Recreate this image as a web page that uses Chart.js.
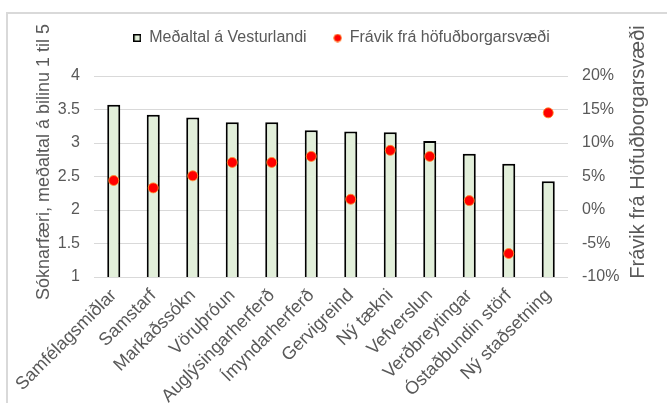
<!DOCTYPE html>
<html>
<head>
<meta charset="utf-8">
<script src="https://cdn.jsdelivr.net/npm/chart.js@4.4.1/dist/chart.umd.min.js"></script>
<style>
  html, body { margin: 0; padding: 0; background: #fff; }
  #wrap { position: relative; width: 667px; height: 403px; overflow: hidden; }
  #frame { position: absolute; left: 6px; top: 12px; width: 700px; height: 500px;
           border-top: 2px solid #d9d9d9; border-left: 2px solid #d9d9d9; box-sizing: border-box; }
  canvas { position: absolute; left: 0; top: 0; }
</style>
</head>
<body>
<div id="wrap">
  <div id="frame"></div>
  <canvas id="c" width="667" height="403"></canvas>
</div>
<script>
// ---- data ----
const categories = ["Samfélagsmiðlar", "Samstarf", "Markaðssókn", "Vöruþróun", "Auglýsingarherferð",
  "Ímyndarherferð", "Gervigreind", "Ný tækni", "Vefverslun", "Verðbreytingar",
  "Óstaðbundin störf", "Ný staðsetning"];
const meanWest = [3.57, 3.42, 3.38, 3.31, 3.31, 3.19, 3.17, 3.16, 3.03, 2.84, 2.69, 2.43];
const deviation = [0.044, 0.033, 0.051, 0.071, 0.071, 0.080, 0.016, 0.089, 0.080, 0.014, -0.065, 0.145];
const leftTickLabels = ["1", "1.5", "2", "2.5", "3", "3.5", "4"];
const rightTickLabels = ["-10%", "-5%", "0%", "5%", "10%", "15%", "20%"];
const seriesNames = ["Meðaltal á Vesturlandi", "Frávik frá höfuðborgarsvæði"];
const leftTitle = "Sóknarfæri, meðaltal á bilinu 1 til 5";
const rightTitle = "Frávik frá Höfuðborgarsvæði";

const FONT = "'Liberation Sans', Arial, sans-serif";
const GREY = "#595959";
const BAR_FILL = "#e2efda";
const DOT_FILL = "#ff0000";
const DOT_EDGE = "rgba(255,140,40,0.85)";

// legend markers
function makeSquare() {
  const c = document.createElement("canvas");
  c.width = 8; c.height = 8;
  const g = c.getContext("2d");
  g.fillStyle = "#000"; g.fillRect(0, 0, 8, 8);
  g.fillStyle = BAR_FILL; g.fillRect(1.5, 1.5, 5, 5);
  return c;
}
function makeDot() {
  const c = document.createElement("canvas");
  c.width = 9; c.height = 9;
  const g = c.getContext("2d");
  g.beginPath(); g.arc(4.5, 4.5, 3.8, 0, Math.PI * 2);
  g.fillStyle = DOT_FILL; g.fill();
  g.lineWidth = 1; g.strokeStyle = DOT_EDGE; g.stroke();
  return c;
}
const squareMarker = makeSquare();
const dotMarker = makeDot();

// extra space under the legend
const legendSpace = {
  id: "legendSpace",
  beforeInit(chart) {
    const lg = chart.legend;
    if (!lg) return;
    const fit = lg.fit;
    lg.fit = function () { fit.call(this); this.height += 20; };
  }
};

const axisTitles = {
  id: "axisTitles",
  afterDraw(chart) {
    const ctx = chart.ctx;
    ctx.save();
    ctx.fillStyle = GREY;
    ctx.textAlign = "center";
    ctx.textBaseline = "middle";
    ctx.font = "18px " + FONT;
    ctx.save();
    ctx.translate(44, 162);
    ctx.rotate(-Math.PI / 2);
    ctx.fillText(leftTitle, 0, 0);
    ctx.restore();
    ctx.font = "20px " + FONT;
    ctx.save();
    ctx.translate(638, 152);
    ctx.rotate(-Math.PI / 2);
    ctx.fillText(rightTitle, 0, 0);
    ctx.restore();
    ctx.restore();
  }
};

new Chart(document.getElementById("c"), {
  data: {
    labels: categories,
    datasets: [
      {
        type: "bar",
        label: seriesNames[0],
        data: meanWest,
        yAxisID: "y",
        backgroundColor: BAR_FILL,
        borderColor: "#000000",
        borderWidth: 2,
        barPercentage: 0.33,
        categoryPercentage: 1.0,
        order: 2
      },
      {
        type: "line",
        label: seriesNames[1],
        data: deviation,
        yAxisID: "y2",
        showLine: false,
        pointStyle: "circle",
        pointRadius: 5,
        pointHoverRadius: 5,
        pointBackgroundColor: DOT_FILL,
        pointBorderColor: DOT_EDGE,
        pointBorderWidth: 1,
        backgroundColor: DOT_FILL,
        borderColor: DOT_EDGE,
        order: 1
      }
    ]
  },
  options: {
    responsive: false,
    animation: false,
    layout: { padding: { top: 3, left: 16, right: 0, bottom: 0 } },
    plugins: {
      tooltip: { enabled: false },
      legend: {
        position: "top",
        align: "center",
        labels: {
          usePointStyle: true,
          boxHeight: 8,
          boxWidth: 8,
          padding: 27,
          color: GREY,
          font: { family: FONT, size: 16 },
          generateLabels: chart => {
            const items = Chart.defaults.plugins.legend.labels.generateLabels(chart);
            items.sort((a, b) => a.datasetIndex - b.datasetIndex);
            items[0].pointStyle = squareMarker;
            items[1].pointStyle = dotMarker;
            return items;
          }
        }
      }
    },
    scales: {
      x: {
        grid: { display: false },
        border: { display: false },
        ticks: {
          color: GREY,
          font: { family: FONT, size: 18 },
          maxRotation: 45,
          minRotation: 45,
          padding: 0,
          autoSkip: false
        },
        afterFit: s => { s.height = 126; }
      },
      y: {
        position: "left",
        min: 1, max: 4,
        grid: { color: "#d9d9d9", lineWidth: 1, drawTicks: false },
        border: { display: false },
        ticks: {
          stepSize: 0.5,
          padding: 14,
          color: GREY,
          font: { family: FONT, size: 16 },
          callback: (v, i) => leftTickLabels[i]
        },
        afterFit: s => { s.width = 78; }
      },
      y2: {
        position: "right",
        min: -0.10, max: 0.20,
        grid: { display: false, drawTicks: false },
        border: { display: false },
        ticks: {
          stepSize: 0.05,
          padding: 14,
          color: GREY,
          font: { family: FONT, size: 16 },
          callback: (v, i) => rightTickLabels[i]
        },
        afterFit: s => { s.width = 99; }
      }
    }
  },
  plugins: [legendSpace, axisTitles]
});
</script>
</body>
</html>
